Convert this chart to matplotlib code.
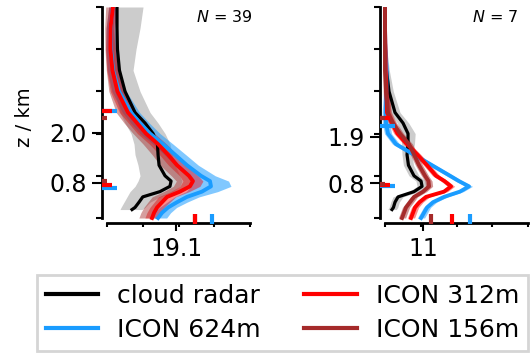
import numpy as np
import matplotlib
matplotlib.use('Agg')
import matplotlib.pyplot as plt
from matplotlib.lines import Line2D

# colours
c_radar = 'black'
c_624 = '#1a9cff'
c_312 = '#ff0000'
c_156 = '#a52a2a'
c_grey = '#cccccc'

# normalised heights of the profiles
z_radar = [1.0, 0.9, 0.8, 0.7, 0.6, 0.5, 0.45, 0.4, 0.35, 0.3, 0.25, 0.2, 0.175, 0.15, 0.125, 0.1, 0.075, 0.05, 0.04]
z_model = [1.0, 0.9, 0.8, 0.7, 0.6, 0.5, 0.45, 0.4, 0.35, 0.3, 0.25, 0.2, 0.175, 0.15, 0.125, 0.1, 0.075, 0.05, 0.025, 0.0]

# ---- left panel (N = 39)
radar_l = [0.07, 0.07, 0.073, 0.087, 0.126, 0.196, 0.266, 0.322, 0.353, 0.357, 0.364, 0.406, 0.448, 0.44, 0.37, 0.25, 0.224, 0.196, 0.175]
radar_lo_l = [0.021, 0.021, 0.028, 0.035, 0.056, 0.091, 0.126, 0.168, 0.189, 0.196, 0.217, 0.231, 0.217, 0.196, 0.161, 0.140, 0.119, 0.098, 0.091]
radar_hi_l = [0.252, 0.231, 0.203, 0.182, 0.231, 0.301, 0.357, 0.406, 0.441, 0.455, 0.476, 0.510, 0.524, 0.510, 0.455, 0.371, 0.301, 0.266, 0.245]
icon624_l = [0.042, 0.024, 0.028, 0.042, 0.084, 0.168, 0.231, 0.301, 0.392, 0.476, 0.559, 0.657, 0.720, 0.727, 0.664, 0.559, 0.490, 0.427, 0.385, 0.357]
icon312_l = [0.042, 0.024, 0.024, 0.038, 0.073, 0.147, 0.210, 0.273, 0.357, 0.427, 0.490, 0.573, 0.601, 0.580, 0.510, 0.420, 0.385, 0.350, 0.329, 0.315]
icon156_l = [0.021, 0.014, 0.021, 0.035, 0.063, 0.119, 0.175, 0.238, 0.308, 0.371, 0.427, 0.510, 0.545, 0.524, 0.455, 0.371, 0.336, 0.308, 0.287, 0.273]
spread624_l = [0.03, 0.03, 0.035, 0.04, 0.05, 0.06, 0.065, 0.07, 0.07, 0.075, 0.08, 0.1, 0.13, 0.14, 0.11, 0.085, 0.07, 0.06, 0.06, 0.06]
spread312_l = [0.03, 0.03, 0.035, 0.04, 0.05, 0.06, 0.06, 0.06, 0.06, 0.06, 0.06, 0.065, 0.07, 0.07, 0.065, 0.06, 0.055, 0.05, 0.05, 0.05]
spread156_l = [0.03, 0.03, 0.035, 0.04, 0.05, 0.055, 0.055, 0.055, 0.055, 0.055, 0.055, 0.06, 0.06, 0.06, 0.06, 0.055, 0.05, 0.05, 0.05, 0.05]

# ---- right panel (N = 7)
radar_r = [0.0, 0.0, 0.003, 0.01, 0.028, 0.07, 0.126, 0.161, 0.161, 0.154, 0.164, 0.203, 0.252, 0.259, 0.203, 0.091, 0.07, 0.059, 0.049]
spread_radar_r = [0.005, 0.005, 0.01, 0.02, 0.03, 0.035, 0.04, 0.05, 0.045, 0.035, 0.035, 0.035, 0.035, 0.035, 0.035, 0.035, 0.03, 0.03, 0.03]
icon624_r = [0.0, 0.0, 0.003, 0.01, 0.01, 0.005, 0.007, 0.021, 0.077, 0.203, 0.329, 0.455, 0.517, 0.587, 0.524, 0.413, 0.336, 0.294, 0.273, 0.252]
icon312_r = [0.0, 0.0, 0.003, 0.005, 0.010, 0.014, 0.049, 0.087, 0.154, 0.227, 0.294, 0.357, 0.416, 0.462, 0.413, 0.287, 0.241, 0.210, 0.196, 0.182]
icon156_r = [0.0, 0.0, 0.0, 0.0, 0.007, 0.021, 0.056, 0.105, 0.168, 0.203, 0.238, 0.280, 0.304, 0.308, 0.266, 0.203, 0.175, 0.147, 0.133, 0.119]
spread_model_r = [0.005, 0.005, 0.01, 0.015, 0.02] + [0.025] * 15

# markers on the axes (heights at the z axis, values at the x axis)
zmark_l = {'624': [0.505, 0.142], '312': [0.505, 0.156], '156': [0.474, 0.173]}
xmark_l = {'624': 0.734, '312': 0.615, '156': 0.615}
zmark_r = {'624': [0.438, 0.150], '312': [0.474, 0.155], '156': [0.474, 0.160]}
xmark_r = {'624': 0.594, '312': 0.469, '156': 0.322}

# tick labels
xlab_l, xpos_l = ['19.1'], [0.483]
ylab_l, ypos_l = ['0.8', '2.0'], [0.166, 0.403]
xlab_r, xpos_r = ['11'], [0.266]
ylab_r, ypos_r = ['0.8', '1.9'], [0.164, 0.384]

W, H = 530, 358


def style_axes(ax, xpos, xlab, ypos, ylab):
    ax.set_xlim(-0.035, 1.014)
    ax.set_ylim(-0.0237, 1.0)
    for s in ['top', 'right']:
        ax.spines[s].set_visible(False)
    for s in ['left', 'bottom']:
        ax.spines[s].set_linewidth(2)
        ax.spines[s].set_bounds(0, 1)
    ax.set_xticks([0, 0.25, 0.5, 0.75, 1.0], minor=True)
    ax.set_yticks([0, 0.2, 0.4, 0.6, 0.8, 1.0], minor=True)
    ax.set_xticks(xpos)
    ax.set_xticklabels(xlab)
    ax.set_yticks(ypos)
    ax.set_yticklabels(ylab)
    ax.tick_params(axis='y', which='major', length=7, width=1.5, labelsize=17, pad=4)
    ax.tick_params(axis='y', which='minor', length=4.5, width=1.5)
    ax.tick_params(axis='x', which='major', length=6, width=1.5, labelsize=17, pad=4)
    ax.tick_params(axis='x', which='minor', length=3, width=1.5)


def band(ax, z, x, hw, color, alpha):
    x = np.asarray(x)
    hw = np.asarray(hw)
    ax.fill_betweenx(z, x - hw, x + hw, color=color, alpha=alpha, lw=0)


def marks(ax, zmark, xmark):
    x0, y0 = ax.get_xlim()[0], ax.get_ylim()[0]
    sizes = {'624': 22, '312': 14.5, '156': 7.5}
    cols = {'624': c_624, '312': c_312, '156': c_156}
    for key in ['624', '312', '156']:
        for z in zmark[key]:
            ax.plot([x0], [z], marker='_', ms=sizes[key], mew=3, color=cols[key], zorder=6)
    for key in ['624', '156', '312']:
        ax.plot([xmark[key]], [y0], marker='|', ms=13, mew=3, color=cols[key], zorder=6)


fig = plt.figure(figsize=(W / 100, H / 100), dpi=100)
ax_l = fig.add_axes([102 / W, 1 - 223 / H, 150 / W, 216 / H])
ax_r = fig.add_axes([380 / W, 1 - 223 / H, 150 / W, 216 / H])

# left panel
ax = ax_l
style_axes(ax, xpos_l, xlab_l, ypos_l, ylab_l)
ax.fill_betweenx(z_radar, radar_lo_l, radar_hi_l, color=c_grey, lw=0)
band(ax, z_model, icon624_l, spread624_l, c_624, 0.55)
band(ax, z_model, icon312_l, spread312_l, c_312, 0.45)
band(ax, z_model, icon156_l, spread156_l, c_156, 0.45)
ax.plot(radar_l, z_radar, color=c_radar, lw=2.3)
ax.plot(icon624_l, z_model, color=c_624, lw=2.8)
ax.plot(icon312_l, z_model, color=c_312, lw=2.8)
marks(ax, zmark_l, xmark_l)
ax.text(1.007, 0.954, '$N$ = 39', transform=ax.transAxes, ha='right', va='center', fontsize=11.5)

# right panel
ax = ax_r
style_axes(ax, xpos_r, xlab_r, ypos_r, ylab_r)
band(ax, z_radar, radar_r, spread_radar_r, c_grey, 1.0)
band(ax, z_model, icon624_r, spread_model_r, c_624, 0.5)
band(ax, z_model, icon312_r, spread_model_r, c_312, 0.45)
band(ax, z_model, icon156_r, spread_model_r, c_156, 0.5)
ax.plot(radar_r, z_radar, color=c_radar, lw=2.3)
ax.plot(icon624_r, z_model, color=c_624, lw=2.8)
ax.plot(icon312_r, z_model, color=c_312, lw=2.8)
ax.plot(icon156_r, z_model, color=c_156, lw=2.8)
marks(ax, zmark_r, xmark_r)
ax.text(0.92, 0.954, '$N$ = 7', transform=ax.transAxes, ha='right', va='center', fontsize=11.5)

fig.text(24 / W, 1 - 117 / H, 'z / km', rotation=90, ha='center', va='center', fontsize=14)

handles = [Line2D([], [], color=c_radar, lw=3),
           Line2D([], [], color=c_624, lw=3),
           Line2D([], [], color=c_312, lw=3),
           Line2D([], [], color=c_156, lw=3)]
labels = ['cloud radar', 'ICON 624m', 'ICON 312m', 'ICON 156m']
leg = fig.legend(handles, labels, ncol=2, loc='upper left', bbox_to_anchor=(37 / W, 1 - 275 / H),
                 borderaxespad=0, fontsize=18, fancybox=False, framealpha=1,
                 handlelength=2.1, handletextpad=0.75, columnspacing=1.75,
                 labelspacing=0.4, borderpad=0.35)
leg.get_frame().set_edgecolor('#d5d5d5')
leg.get_frame().set_linewidth(2)

fig.savefig('out.png', dpi=100)
